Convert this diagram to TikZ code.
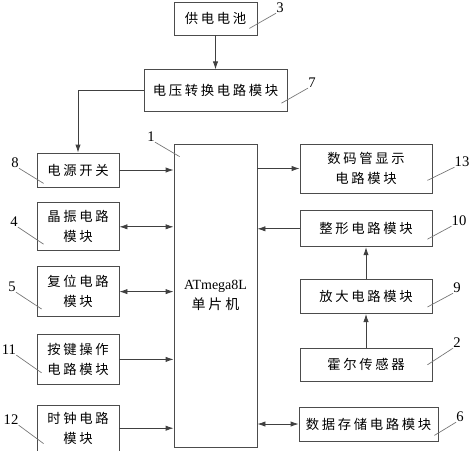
\documentclass[tikz,border=0pt]{standalone}
\usepackage{fontspec}
\setmainfont{Liberation Serif}
\newfontfamily\cjk[LetterSpace=20]{Noto Sans CJK SC}
\usetikzlibrary{arrows.meta,positioning}

\begin{document}
\begin{tikzpicture}[x=0.75pt, y=-0.75pt,
        block/.style={rectangle, draw=black!70, line width=0.6pt, inner sep=0pt, align=center, minimum width=61.5pt, font=\cjk\fontsize{10}{15}\selectfont},
        arr/.style={-{Latex[length=6pt,width=4pt]}, draw=black!75, line width=0.6pt},
        biarr/.style={{Latex[length=6pt,width=4pt]}-{Latex[length=6pt,width=4pt]}, draw=black!75, line width=0.6pt},
        lead/.style={draw=black!55, line width=0.5pt},
        num/.style={inner sep=0pt, font=\fontsize{11}{11}\selectfont}
    ]
        \useasboundingbox (0,0) rectangle (473,450);

        % Power supply
        \node[block, minimum width=62.25pt, minimum height=24.75pt] (bat) at (215.5,18.5) {供电电池};
        \node[block, minimum width=107.25pt, minimum height=31.5pt, below=25.5pt of bat] (volt) {电压转换电路模块};

        % Microcontroller
        \node[block, minimum width=62.25pt, minimum height=227.25pt, font=\fontsize{10.5}{15}\selectfont] (mcu) at (215.5,295.5) {ATmega8L\\{\cjk 单片机}};

        % Left column
        \node[block, minimum height=25.5pt] (pwr) at (78,170) {电源开关};
        \node[block, minimum height=36pt, below=11.25pt of pwr] (osc) {晶振电路\\模块};
        \node[block, minimum height=37.5pt, below=11.25pt of osc] (rst) {复位电路\\模块};
        \node[block, minimum height=37.5pt, below=12.75pt of rst] (key) {按键操作\\电路模块};
        \node[block, minimum height=34.5pt, below=15pt of key] (clk) {时钟电路\\模块};

        % Right column
        \node[block, minimum width=99pt, minimum height=36.75pt] (disp) at (366,168.5) {数码管显示\\电路模块};
        \node[block, minimum width=99pt, minimum height=27pt, below=12.75pt of disp] (shape) {整形电路模块};
        \node[block, minimum width=99pt, minimum height=25.5pt, below=24pt of shape] (amp) {放大电路模块};
        \node[block, minimum width=99pt, minimum height=24.75pt, below=25.5pt of amp] (hall) {霍尔传感器};
        \node[block, minimum width=104.25pt, minimum height=25.5pt] (mem) at (368.5,424) {数据存储电路模块};

        % Arrows
        \draw[arr] (bat) -- (volt);
        \draw[arr] (volt.west) -| (pwr.north);
        \draw[arr] (pwr) -- (pwr -| mcu.west);
        \draw[biarr] (osc) -- (osc -| mcu.west);
        \draw[biarr] (rst) -- (rst -| mcu.west);
        \draw[arr] (key) -- (key -| mcu.west);
        \draw[arr] (clk) -- (clk -| mcu.west);
        \draw[arr] (mcu.east |- disp) -- (disp);
        \draw[arr] (shape) -- (shape -| mcu.east);
        \draw[arr] (amp) -- (shape);
        \draw[arr] (hall) -- (amp);
        \draw[biarr] (mcu.east |- mem) -- (mem);

        % Reference numbers
        \node[num] (n1) at (151,137) {1};
        \node[num] (n2) at (457,343) {2};
        \node[num] (n3) at (280,8) {3};
        \node[num] (n4) at (14,222) {4};
        \node[num] (n5) at (12,287) {5};
        \node[num] (n6) at (460,417) {6};
        \node[num] (n7) at (312,83) {7};
        \node[num] (n8) at (15,163) {8};
        \node[num] (n9) at (457,288) {9};
        \node[num] (n10) at (459,221) {10};
        \node[num] (n11) at (9,350) {11};
        \node[num] (n12) at (11,420) {12};
        \node[num] (n13) at (462,162) {13};

        \draw[lead] (n1.south east) -- ([shift={(6,13)}]mcu.north west);
        \draw[lead] ([shift={(-5,-17)}]hall.south east) -- (n2.south west);
        \draw[lead] ([shift={(-8,-7)}]bat.south east) -- (n3.south west);
        \draw[lead] (n4.south east) -- ([shift={(7,-7)}]osc.south west);
        \draw[lead] (n5.south east) -- ([shift={(5,-8)}]rst.south west);
        \draw[lead] ([shift={(-4,-6)}]mem.south east) -- (n6.south west);
        \draw[lead] ([shift={(-6,-9)}]volt.south east) -- (n7.south west);
        \draw[lead] (n8.south east) -- ([shift={(7,-4)}]pwr.south west);
        \draw[lead] ([shift={(-5,-7)}]amp.south east) -- (n9.south west);
        \draw[lead] ([shift={(-5,-8)}]shape.south east) -- (n10.south west);
        \draw[lead] (n11.south east) -- ([shift={(5,-12)}]key.south west);
        \draw[lead] (n12.south east) -- ([shift={(7,-8)}]clk.south west);
        \draw[lead] ([shift={(-5,-13)}]disp.south east) -- (n13.south west);
    \end{tikzpicture}
\end{document}
